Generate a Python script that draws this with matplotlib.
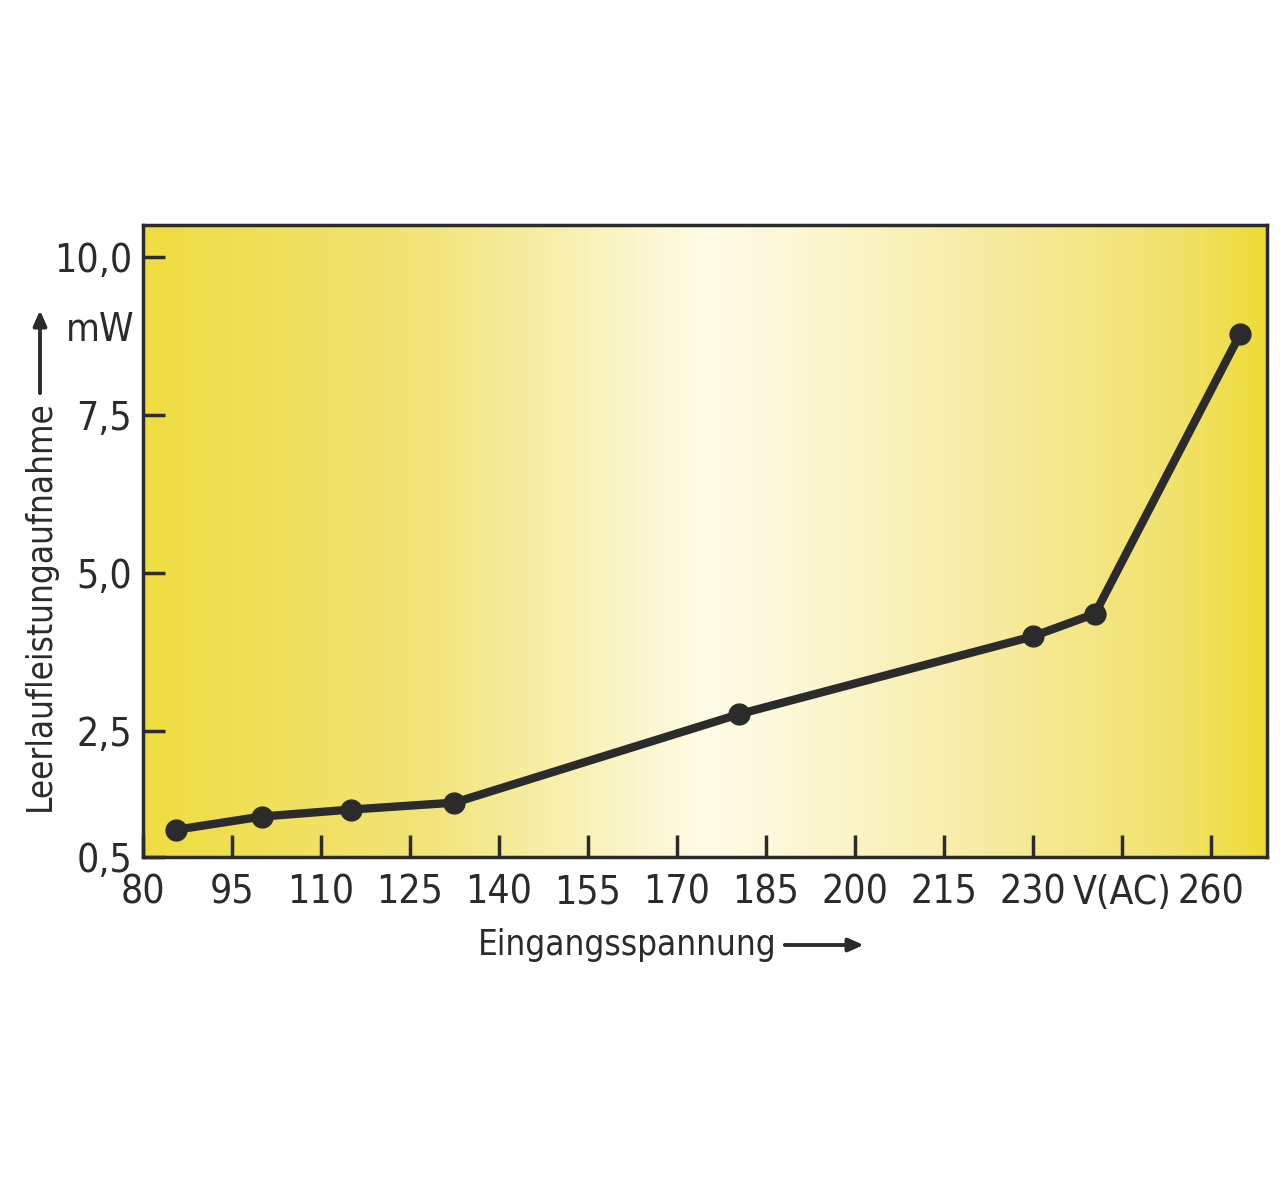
import numpy as np
import matplotlib.pyplot as plt
from matplotlib.colors import LinearSegmentedColormap

# data
voltage = [85.5, 100, 115, 132.5, 180.5, 230, 240.5, 265]
power_mw = [0.93, 1.14, 1.25, 1.36, 2.76, 3.99, 4.35, 8.78]

x_ticks = [80, 95, 110, 125, 140, 155, 170, 185, 200, 215, 230, 245, 260]
x_tick_labels = ['80', '95', '110', '125', '140', '155', '170', '185', '200',
                 '215', '230', 'V(AC)', '260']
y_ticks = [0.5, 2.5, 5.0, 7.5, 10.0]
y_tick_labels = ['0,5', '2,5', '5,0', '7,5', '10,0']

plt.rcParams['font.family'] = ['DejaVu Sans']
plt.rcParams['font.stretch'] = 'condensed'
ink = '#2b2b2b'
fs = 28

fig = plt.figure(figsize=(12.8, 11.9), dpi=100)
ax = fig.add_axes([143 / 1280, 333 / 1190, 1124 / 1280, 632 / 1190])

xmin, xmax = 80, 269.5
ymin, ymax = 0.5, 10.5

# yellow - white - yellow background
cmap = LinearSegmentedColormap.from_list('bg', [
    (0.00, '#efdd40'),
    (0.25, '#f2e479'),
    (0.50, '#fefce6'),
    (0.56, '#fdf9dc'),
    (0.76, '#f7eba0'),
    (0.92, '#f1e26c'),
    (1.00, '#eedc36'),
])
grad = np.linspace(0, 1, 512).reshape(1, -1)
ax.imshow(grad, cmap=cmap, aspect='auto', extent=[xmin, xmax, ymin, ymax],
          zorder=0, interpolation='bilinear')

ax.plot(voltage, power_mw, color=ink, linewidth=6, marker='o', markersize=15,
        solid_joinstyle='round', zorder=3)

ax.set_xlim(xmin, xmax)
ax.set_ylim(ymin, ymax)
ax.set_xticks(x_ticks)
ax.set_xticklabels(x_tick_labels)
ax.set_yticks(y_ticks)
ax.set_yticklabels(y_tick_labels)
ax.tick_params(direction='in', length=16, width=2.5, color=ink, labelsize=fs,
               labelcolor=ink)
ax.tick_params(axis='x', pad=12)
ax.tick_params(axis='y', pad=8)

for s in ax.spines.values():
    s.set_linewidth(2.5)
    s.set_color(ink)

# unit label
fig.text(100 / 1280, 1 - 330 / 1190, 'mW', fontsize=fs, color=ink,
         ha='center', va='center')

# axis titles with arrows
fig.text(627 / 1280, 1 - 945 / 1190, 'Eingangsspannung', fontsize=25,
         color=ink, ha='center', va='center')
fig.add_artist(plt.annotate('', xy=(866 / 1280, 1 - 945 / 1190),
                            xytext=(782 / 1280, 1 - 945 / 1190),
                            xycoords='figure fraction',
                            arrowprops=dict(arrowstyle='-|>,head_length=0.9,head_width=0.4',
                                            color=ink, lw=2.5)))

fig.text(40 / 1280, 1 - 606 / 1190, 'Leerlaufleistungaufnahme', fontsize=25,
         color=ink, ha='center', va='center', rotation=90)
fig.add_artist(plt.annotate('', xy=(40 / 1280, 1 - 308 / 1190),
                            xytext=(40 / 1280, 1 - 396 / 1190),
                            xycoords='figure fraction',
                            arrowprops=dict(arrowstyle='-|>,head_length=0.9,head_width=0.4',
                                            color=ink, lw=2.5)))

plt.savefig('out.png', dpi=100)
